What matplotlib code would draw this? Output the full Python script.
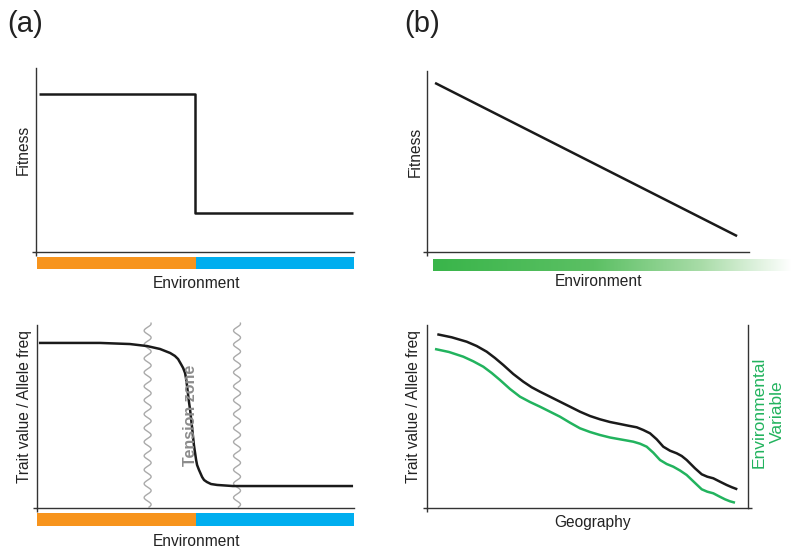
import numpy as np
import matplotlib.pyplot as plt
from matplotlib.colors import LinearSegmentedColormap

plt.rcParams['font.family'] = ['Liberation Sans', 'DejaVu Sans']

W, H = 800, 554

# panel (a) top: step fitness
step_x = [0.9, 50.0, 50.0, 99.7]
step_y = [85.9, 85.9, 21.2, 21.2]

# panel (b) top: linear fitness
lin_x = [2.5, 96.3]
lin_y = [93.4, 8.8]

# panel (a) bottom: cline through tension zone
cline_x = [0.6, 19.9, 29.3, 34.7, 38.8, 42.0, 43.5, 44.5, 45.4, 46.1, 46.7,
           47.0, 47.3, 47.6, 47.9, 48.3, 48.9, 49.5, 50.2, 50.5, 51.1, 52.1,
           52.7, 53.6, 54.9, 56.8, 61.8, 76.7, 99.7]
cline_y = [90.2, 90.2, 89.6, 88.5, 86.9, 84.7, 83.1, 81.4, 78.7, 76.5, 73.8,
           71.0, 67.2, 62.8, 58.5, 53.6, 44.3, 34.4, 26.2, 23.5, 20.8, 16.9,
           15.3, 14.2, 13.1, 12.6, 12.0, 12.0, 12.0]
zone_edges = [34.9, 63.1]

# panel (b) bottom: trait tracks environment
trait_x = [3.21, 7.69, 12.37, 15.48, 18.60, 21.18, 23.77, 26.88, 30.00, 32.62,
           35.20, 38.32, 41.43, 44.55, 47.66, 50.78, 53.89, 57.01, 60.12, 62.71,
           65.33, 67.38, 69.47, 71.56, 73.61, 75.70, 77.79, 79.35, 80.90, 83.49,
           85.58, 87.32, 89.19, 91.28, 93.36, 95.02, 96.67]
trait_y = [94.92, 93.28, 90.87, 88.52, 85.41, 81.97, 78.14, 73.22, 69.02, 65.96,
           63.55, 60.82, 58.09, 55.36, 52.62, 50.27, 48.47, 46.99, 45.90, 44.97,
           44.10, 42.62, 40.82, 37.54, 33.50, 31.31, 29.89, 28.42, 26.23, 21.69,
           18.42, 17.10, 16.23, 14.37, 12.57, 11.31, 10.22]
env_x = [2.49, 6.85, 11.31, 14.42, 17.54, 20.16, 22.74, 25.86, 28.97, 32.09,
         35.20, 38.32, 41.43, 44.55, 47.66, 50.78, 53.89, 57.01, 60.12, 62.21,
         64.27, 66.36, 68.44, 70.50, 72.59, 74.67, 76.73, 78.82, 80.90, 83.18,
         85.58, 87.32, 89.19, 90.97, 92.83, 94.39, 95.95]
env_y = [86.89, 85.25, 82.68, 80.16, 77.21, 73.77, 69.95, 65.03, 60.82, 57.92,
         55.36, 52.62, 49.89, 46.61, 43.55, 41.53, 39.89, 38.52, 37.54, 36.89,
         36.23, 35.14, 33.50, 30.22, 26.23, 24.04, 22.57, 20.49, 18.03, 14.21,
         10.22, 8.91, 8.03, 6.39, 4.75, 3.66, 2.90]

orange = '#f7941d'
blue = '#00aeef'
green = '#39b54a'
green_line = '#22b35e'
axis_col = '#333333'


def rect(x0, y0, x1, y1):
    # pixel box -> figure fraction
    return [x0 / W, 1 - y1 / H, (x1 - x0) / W, (y1 - y0) / H]


def ftext(x, y, s, **kw):
    fig.text(x / W, 1 - y / H, s, ha='center', va='center', **kw)


def style_axes(ax, right=False):
    ax.set_xlim(0, 100)
    ax.set_ylim(0, 100)
    ax.spines['top'].set_visible(False)
    ax.spines['right'].set_visible(right)
    for s in ['left', 'bottom', 'right']:
        ax.spines[s].set_color(axis_col)
        ax.spines[s].set_linewidth(1.0)
    ax.set_xticks([0])
    ax.set_yticks([0])
    ax.set_xticklabels([])
    ax.set_yticklabels([])
    ax.tick_params(length=3, width=1, color=axis_col, right=right)
    ax.patch.set_alpha(0)


def color_bar(box, split=True):
    cax = fig.add_axes(rect(*box))
    cax.set_axis_off()
    if split:
        cax.barh(0, 50, left=0, height=1, color=orange)
        cax.barh(0, 50, left=50, height=1, color=blue)
        cax.set_xlim(0, 100)
        cax.set_ylim(-0.5, 0.5)
    else:
        cmap = LinearSegmentedColormap.from_list(
            'g', [(0, green), (0.45, '#5cc064'), (0.75, '#a9dca8'), (1, '#ffffff')])
        cax.imshow(np.linspace(0, 1, 256)[None, :], aspect='auto', cmap=cmap)


fig = plt.figure(figsize=(8, 5.54), dpi=100)

lab = dict(fontsize=11.2, color='#222222')
line_kw = dict(lw=1.8, solid_joinstyle='round', solid_capstyle='butt')

# (a) top
ax1 = fig.add_axes(rect(36, 68, 354, 252))
style_axes(ax1)
ax1.plot(step_x, step_y, color='#1a1a1a', **line_kw)
color_bar((37, 257, 354, 269))
ftext(23, 150, 'Fitness', rotation=90, **lab)
ftext(196, 283, 'Environment', **lab)

# (b) top
ax2 = fig.add_axes(rect(427, 71, 749, 252))
style_axes(ax2)
ax2.plot(lin_x, lin_y, color='#1a1a1a', **line_kw)
color_bar((433, 259, 792, 271), split=False)
ftext(415, 152, 'Fitness', rotation=90, **lab)
ftext(598, 282, 'Environment', **lab)

# (a) bottom
ax3 = fig.add_axes(rect(37, 325, 354, 508))
style_axes(ax3)
wy = np.linspace(0.5, 101, 400)
for xe in zone_edges:
    ax3.plot(xe + 1.1 * np.sin(2 * np.pi * wy / 7.6), wy, color='#aaaaaa',
             lw=1.0, clip_on=False)
ax3.plot(cline_x, cline_y, color='#1a1a1a', **line_kw)
ax3.text(48.3, 50.8, 'Tension zone', rotation=90, ha='center', va='center',
         fontsize=11.5, fontweight='bold', color='#8c8c8c')
color_bar((37, 513, 354, 526))
ftext(25, 407, 'Trait value / Allele freq', rotation=90, **lab)
ftext(197, 542, 'Environment', **lab)

# (b) bottom
ax4 = fig.add_axes(rect(427, 325, 748, 508))
style_axes(ax4, right=True)
ax4.plot(trait_x, trait_y, color='#1a1a1a', **line_kw)
ax4.plot(env_x, env_y, color=green_line, **line_kw)
ftext(414, 407, 'Trait value / Allele freq', rotation=90, **lab)
ftext(593, 522, 'Geography', **lab)
ftext(768, 412, 'Environmental\nVariable', rotation=90, fontsize=12.5,
      color=green_line, multialignment='center', linespacing=1.3)

ftext(25, 24, '(a)', fontsize=21, color='#222222')
ftext(422, 24, '(b)', fontsize=21, color='#222222')

fig.savefig('out.png', dpi=100)
